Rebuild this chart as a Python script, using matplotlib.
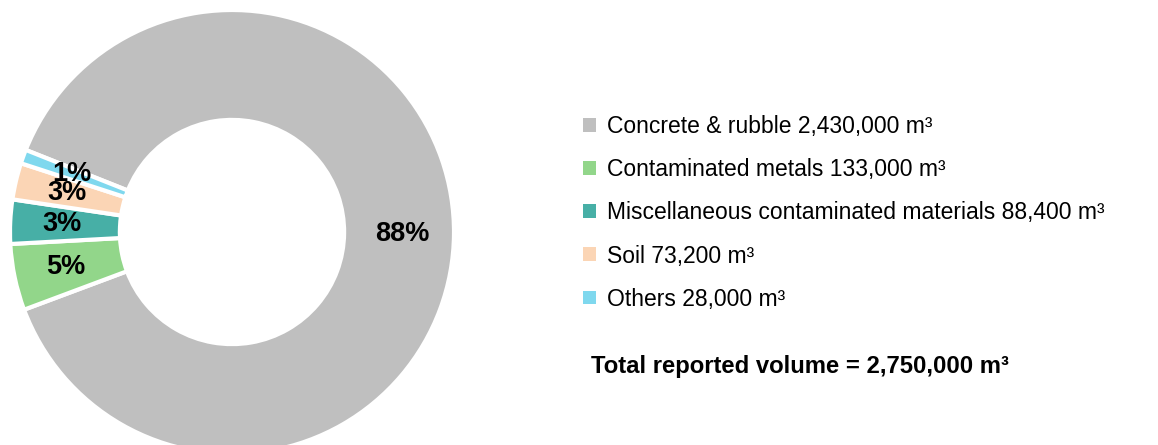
import matplotlib
matplotlib.use("Agg")
import matplotlib.pyplot as plt
from matplotlib.patches import Patch

plt.rcParams['font.family'] = ['Liberation Sans', 'DejaVu Sans']

categories = ["Concrete & rubble", "Contaminated metals",
              "Miscellaneous contaminated materials", "Soil", "Others"]
volumes = [2430000, 133000, 88400, 73200, 28000]
volume_labels = ["2,430,000 m³", "133,000 m³", "88,400 m³", "73,200 m³", "28,000 m³"]
total_label = "Total reported volume = 2,750,000 m³"
colors = ["#bfbfbf", "#92d68a", "#47afa6", "#fbd5b5", "#7fd8ee"]

W, H = 1158, 445
fig = plt.figure(figsize=(W / 100, H / 100), dpi=100)
cx, cy, R = 232, 445 - 232, 222
ax = fig.add_axes([(cx - R) / W, (cy - R) / H, 2 * R / W, 2 * R / H])

wedges, texts, autotexts = ax.pie(
    volumes, colors=colors, startangle=158.3, counterclock=False,
    radius=1.0, autopct='%1.0f%%', pctdistance=0.765,
    wedgeprops=dict(width=0.495, edgecolor='white', linewidth=3),
    textprops=dict(fontsize=19.5, fontweight='bold', color='black'))
ax.set_xlim(-1, 1)
ax.set_ylim(-1, 1)
ax.set_aspect('equal')
ax.axis('off')

handles = [Patch(facecolor=c, edgecolor='none') for c in colors]
labels = [f"{c} {v}" for c, v in zip(categories, volume_labels)]
leg = fig.legend(handles, labels, loc='upper left',
                 bbox_to_anchor=(583 / W, 1 - 115 / H),
                 frameon=False, fontsize=16.5, handlelength=0.55, handleheight=0.55,
                 handletextpad=0.5, labelspacing=0.88, borderaxespad=0, borderpad=0)

fig.text(591 / W, (445 - 367) / H, total_label, fontsize=17.2, fontweight='bold',
         ha='left', va='center')

fig.savefig("out.png", dpi=100)
